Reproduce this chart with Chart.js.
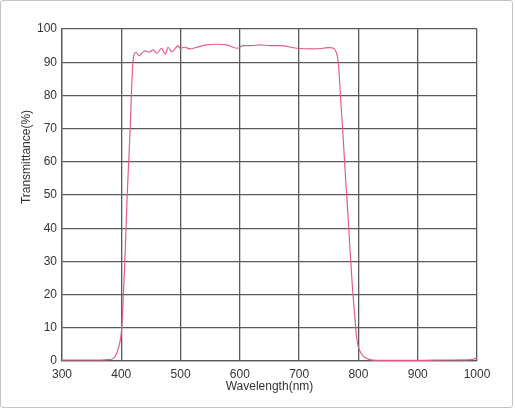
<!DOCTYPE html>
<html>
<head>
<meta charset="utf-8">
<script src="https://cdn.jsdelivr.net/npm/chart.js@4.4.0/dist/chart.umd.min.js"></script>
<style>
  html, body { margin: 0; padding: 0; background: #fff; }
  #wrap { position: relative; width: 515px; height: 409px; }
  #frame { position: absolute; left: 0; top: 0; width: 511px; height: 406px;
           border: 1px solid #c4c4c4; border-radius: 3px; pointer-events: none; }
</style>
</head>
<body>
<div id="wrap">
  <canvas id="specChart" width="515" height="409"></canvas>
  <div id="frame"></div>
</div>
<script>
// wavelength (nm) and transmittance (%)
const wavelength = [300, 320, 340, 360, 375, 385, 390, 395, 399, 401, 403.5, 406, 408, 410, 412.5, 415, 417, 419, 421, 425,
  430, 435, 440, 447, 454, 460, 468, 474, 479, 485, 496, 499, 507, 516, 527, 544, 561, 578, 595, 606,
  620, 634, 650, 668, 696, 724, 740, 752, 758, 762, 766, 770, 774, 778, 782, 786, 790, 794, 797, 800,
  805, 810, 818, 830, 860, 900, 950, 990, 1000];
const transmittance = [0.3, 0.3, 0.3, 0.3, 0.4, 0.6, 1.5, 3.8, 7, 10.5, 20, 30, 40, 50, 60, 70, 80, 88.5, 92, 93,
  91.9, 92.8, 93.4, 93.0, 93.7, 92.7, 94.2, 92.4, 94.5, 93.1, 95.0, 94.2, 94.5, 94.0, 94.5, 95.2, 95.4, 95.2, 94.2, 95.0,
  95.0, 95.2, 95.0, 95.0, 94.2, 94.0, 94.2, 94.4, 94.2, 93.2, 90, 79, 68, 56, 45, 33, 22, 13, 7, 4.2,
  2.2, 1.2, 0.5, 0.2, 0.2, 0.2, 0.3, 0.4, 0.9];
const xTicks = [300, 400, 500, 600, 700, 800, 900, 1000];
const yTicks = [0, 10, 20, 30, 40, 50, 60, 70, 80, 90, 100];

const points = wavelength.map((w, i) => ({ x: w, y: transmittance[i] }));
const gridColor = '#5a5a5a';
const labelFont = { family: 'Liberation Sans', size: 12 };

// y title sits above the middle of the axis in the original, so draw it by hand
const yTitlePlugin = {
  id: 'yTitle',
  afterDraw(chart) {
    const c = chart.ctx;
    c.save();
    c.translate(27, 157);
    c.rotate(-Math.PI / 2);
    c.font = '12px "Liberation Sans"';
    c.fillStyle = '#333';
    c.textAlign = 'center';
    c.textBaseline = 'middle';
    c.fillText('Transmittance(%)', 0, 0);
    c.restore();
  }
};

const ctx = document.getElementById('specChart').getContext('2d');
const specChart = new Chart(ctx, {
  type: 'line',
  data: {
    datasets: [{
      data: points,
      borderColor: '#e25c8e',
      borderWidth: 1.2,
      pointRadius: 0,
      cubicInterpolationMode: 'monotone',
      fill: false
    }]
  },
  plugins: [yTitlePlugin],
  options: {
    responsive: false,
    animation: false,
    layout: { padding: { top: 29, right: 38, left: 0, bottom: 0 } },
    plugins: {
      legend: { display: false },
      tooltip: { enabled: false }
    },
    scales: {
      x: {
        type: 'linear',
        min: 300,
        max: 1000,
        afterBuildTicks: (scale) => { scale.ticks = xTicks.map(v => ({ value: v })); },
        afterFit: (scale) => { scale.height = 48; },
        ticks: { color: '#333', padding: 6, font: labelFont, callback: (v) => String(v) },
        grid: { color: gridColor, lineWidth: 1.3, drawTicks: false },
        border: { color: gridColor, width: 1.3 },
        title: {
          display: true,
          text: 'Wavelength(nm)',
          color: '#333',
          font: labelFont,
          padding: { top: 0, bottom: 15 }
        }
      },
      y: {
        min: 0,
        max: 100,
        afterBuildTicks: (scale) => { scale.ticks = yTicks.map(v => ({ value: v })); },
        afterFit: (scale) => { scale.width = 62; },
        ticks: { color: '#333', padding: 5, font: labelFont },
        grid: { color: gridColor, lineWidth: 1.3, drawTicks: false },
        border: { color: gridColor, width: 1.3 }
      }
    }
  }
});
</script>
</body>
</html>
